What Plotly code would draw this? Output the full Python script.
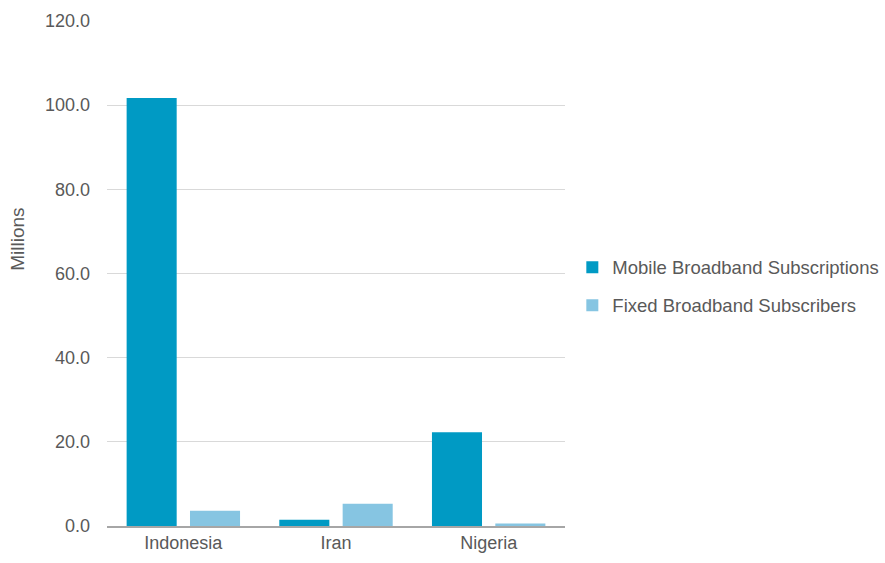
import plotly.graph_objects as go

countries = ["Indonesia", "Iran", "Nigeria"]
mobile_broadband = [101.7, 1.5, 22.3]
fixed_broadband = [3.6, 5.3, 0.6]
y_ticks = [0, 20, 40, 60, 80, 100, 120]

FONT = "Liberation Sans, Arial, sans-serif"
TEXT = "#595959"

fig = go.Figure()
fig.add_trace(go.Bar(name="Mobile Broadband Subscriptions", x=countries, y=mobile_broadband,
                     legendgroup="mobile",
                     marker=dict(color="#009AC4", line=dict(width=0))))
fig.add_trace(go.Bar(name="Fixed Broadband Subscribers", x=countries, y=fixed_broadband,
                     legendgroup="fixed",
                     marker=dict(color="#86C5E2", line=dict(width=0))))

fig.update_layout(
    width=885, height=563,
    margin=dict(l=107, r=320, t=21, b=37, autoexpand=False),
    plot_bgcolor="white", paper_bgcolor="white",
    barmode="group", bargap=0.17, bargroupgap=0.21,
    font=dict(family=FONT, size=18, color=TEXT),
    legend=dict(x=1.016, y=0.474, xanchor="left", yanchor="middle",
                font=dict(family=FONT, size=18.5, color=TEXT),
                itemwidth=30, traceorder="grouped", tracegroupgap=11),
    showlegend=True,
    annotations=[dict(text="Millions", textangle=-90, xref="paper", yref="paper",
                      x=-0.194, y=0.567, xanchor="center", yanchor="middle",
                      showarrow=False, font=dict(family=FONT, size=19, color=TEXT))],
)
fig.update_xaxes(showline=True, linecolor="#A6A6A6", linewidth=1.5, automargin=False,
                 ticks="", tickfont=dict(size=18, color=TEXT), showgrid=False)
fig.update_yaxes(range=[0, 120], tickvals=y_ticks, tickformat=".1f", automargin=False,
                 showgrid=True, gridcolor="#D9D9D9", gridwidth=1,
                 zeroline=False, showline=False, ticks="",
                 ticklabelstandoff=16,
                 tickfont=dict(size=18, color=TEXT))

fig.write_html("out.html")
